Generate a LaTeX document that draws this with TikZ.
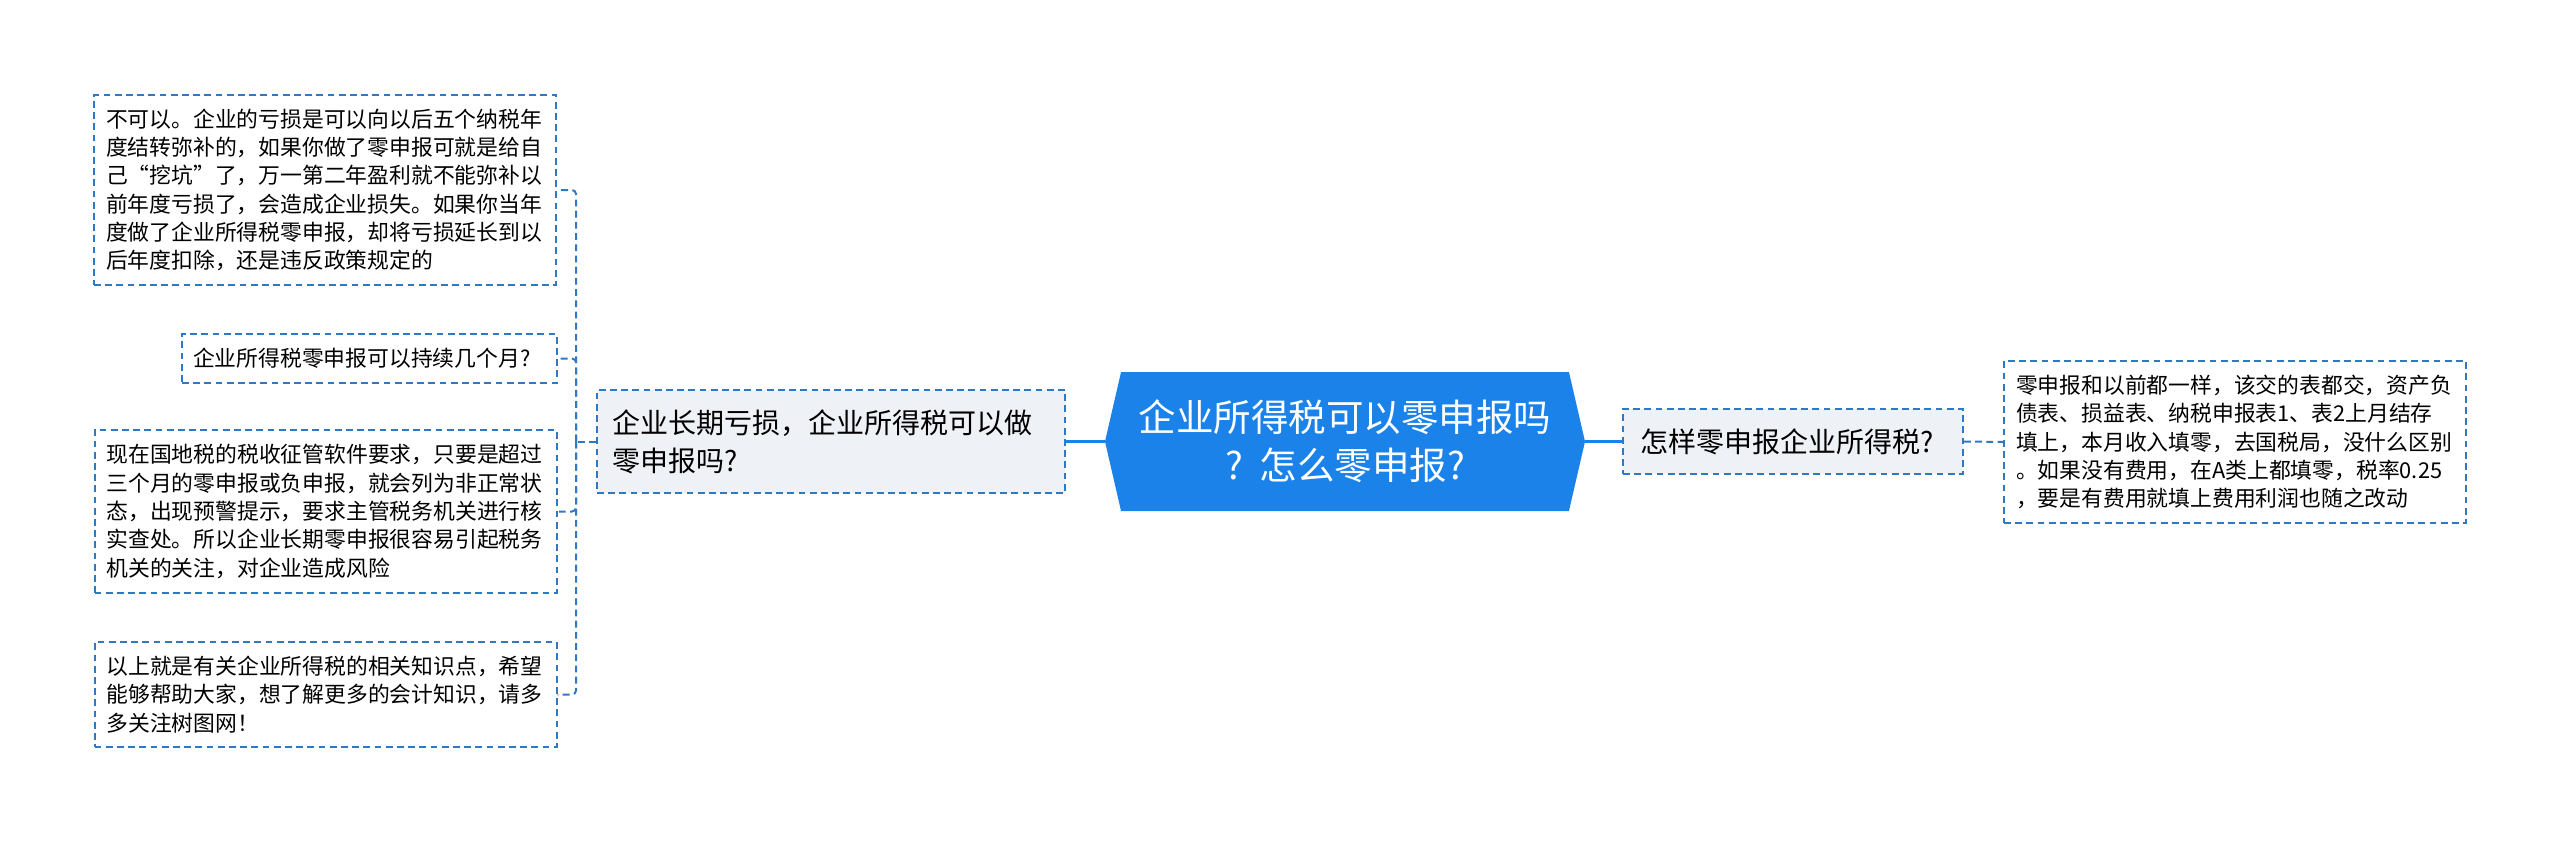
\documentclass[tikz,border=0pt]{standalone}
\usepackage{fontspec}
\setmainfont{Noto Sans CJK SC}
\usepackage{xcolor}
\usepackage{tikz}
\usetikzlibrary{shapes,arrows,positioning}
\definecolor{mapblue}{HTML}{1A82E8}
\definecolor{linkblue}{HTML}{2F78C4}
\definecolor{boxgray}{HTML}{EEF1F5}

\begin{document}
\begin{tikzpicture}[x=0.5pt,y=-0.5pt]
\tikzstyle{root} = [signal, signal to=east and west, signal pointer angle=154, fill=mapblue, text=white, minimum width=240pt, minimum height=69.5pt, inner sep=0pt, align=center, font=\fontsize{18.75pt}{24pt}\selectfont]
\tikzstyle{topic} = [rectangle, draw=linkblue, line width=1pt, dash pattern=on 3.4pt off 2.2pt, fill=boxgray, align=left, inner ysep=0pt, font=\fontsize{14pt}{19pt}\selectfont]
\tikzstyle{leaf} = [rectangle, draw=linkblue, line width=1pt, dash pattern=on 3.4pt off 2.2pt, fill=white, align=left, inner xsep=6pt, inner ysep=0pt, text width=219pt, font=\fontsize{10.9pt}{14.15pt}\selectfont]
\tikzstyle{solidlink} = [draw=mapblue, line width=1.5pt]
\tikzstyle{dashlink} = [draw=linkblue, line width=1pt, dash pattern=on 3.4pt off 2.2pt, rounded corners=2pt]

\useasboundingbox (0,0) rectangle (2560,842);

	% centre
	\node [root] (root) at (1345,441.5) {企业所得税可以零申报吗\\?\hspace{0.45em}怎么零申报?};

	% left branch
	\node [topic, minimum width=234pt, minimum height=51.5pt, inner xsep=7.5pt, text width=219pt] (longloss) at (831,441.5) {企业长期亏损，企业所得税可以做\\零申报吗?};
	\node [leaf, minimum height=95pt] (lossyears) at (325,190) {不可以。企业的亏损是可以向以后五个纳税年\\度结转弥补的，如果你做了零申报可就是给自\\己“挖坑”了，万一第二年盈利就不能弥补以\\前年度亏损了，会造成企业损失。如果你当年\\度做了企业所得税零申报，却将亏损延长到以\\后年度扣除，还是违反政策规定的};
	\node [leaf, minimum height=24.5pt, inner xsep=5.5pt, text width=176.5pt] (months) at (369.5,358.5) {企业所得税零申报可以持续几个月?};
	\node [leaf, minimum height=81.5pt] (warning) at (325.5,511.5) {现在国地税的税收征管软件要求，只要是超过\\三个月的零申报或负申报，就会列为非正常状\\态，出现预警提示，要求主管税务机关进行核\\实查处。所以企业长期零申报很容易引起税务\\机关的关注，对企业造成风险};
	\node [leaf, minimum height=52.5pt] (more) at (325.5,694.5) {以上就是有关企业所得税的相关知识点，希望\\能够帮助大家，想了解更多的会计知识，请多\\多关注树图网！};
	\coordinate (spine) at (576,441.5);

	% right branch
	\node [topic, minimum width=170pt, minimum height=32.5pt, inner xsep=8.5pt, text width=153pt] (howto) at (1793,441.5) {怎样零申报企业所得税?};
	\node [leaf, minimum height=81pt] (steps) at (2235,442) {零申报和以前都一样，该交的表都交，资产负\\债表、损益表、纳税申报表1、表2上月结存\\填上，本月收入填零，去国税局，没什么区别\\。如果没有费用，在A类上都填零，税率0.25\\，要是有费用就填上费用利润也随之改动};

	\path [solidlink] (root.west) -- (longloss.east);
	\path [solidlink] (root.east) -- (howto.west);
	\path [dashlink] (longloss.west) -- (spine);
	\path [dashlink] (spine) |- (lossyears.east);
	\path [dashlink] (spine) |- (months.east);
	\path [dashlink] (spine) |- (warning.east);
	\path [dashlink] (spine) |- (more.east);
	\path [dashlink] (howto.east) -- (steps.west);
\end{tikzpicture}
\end{document}
